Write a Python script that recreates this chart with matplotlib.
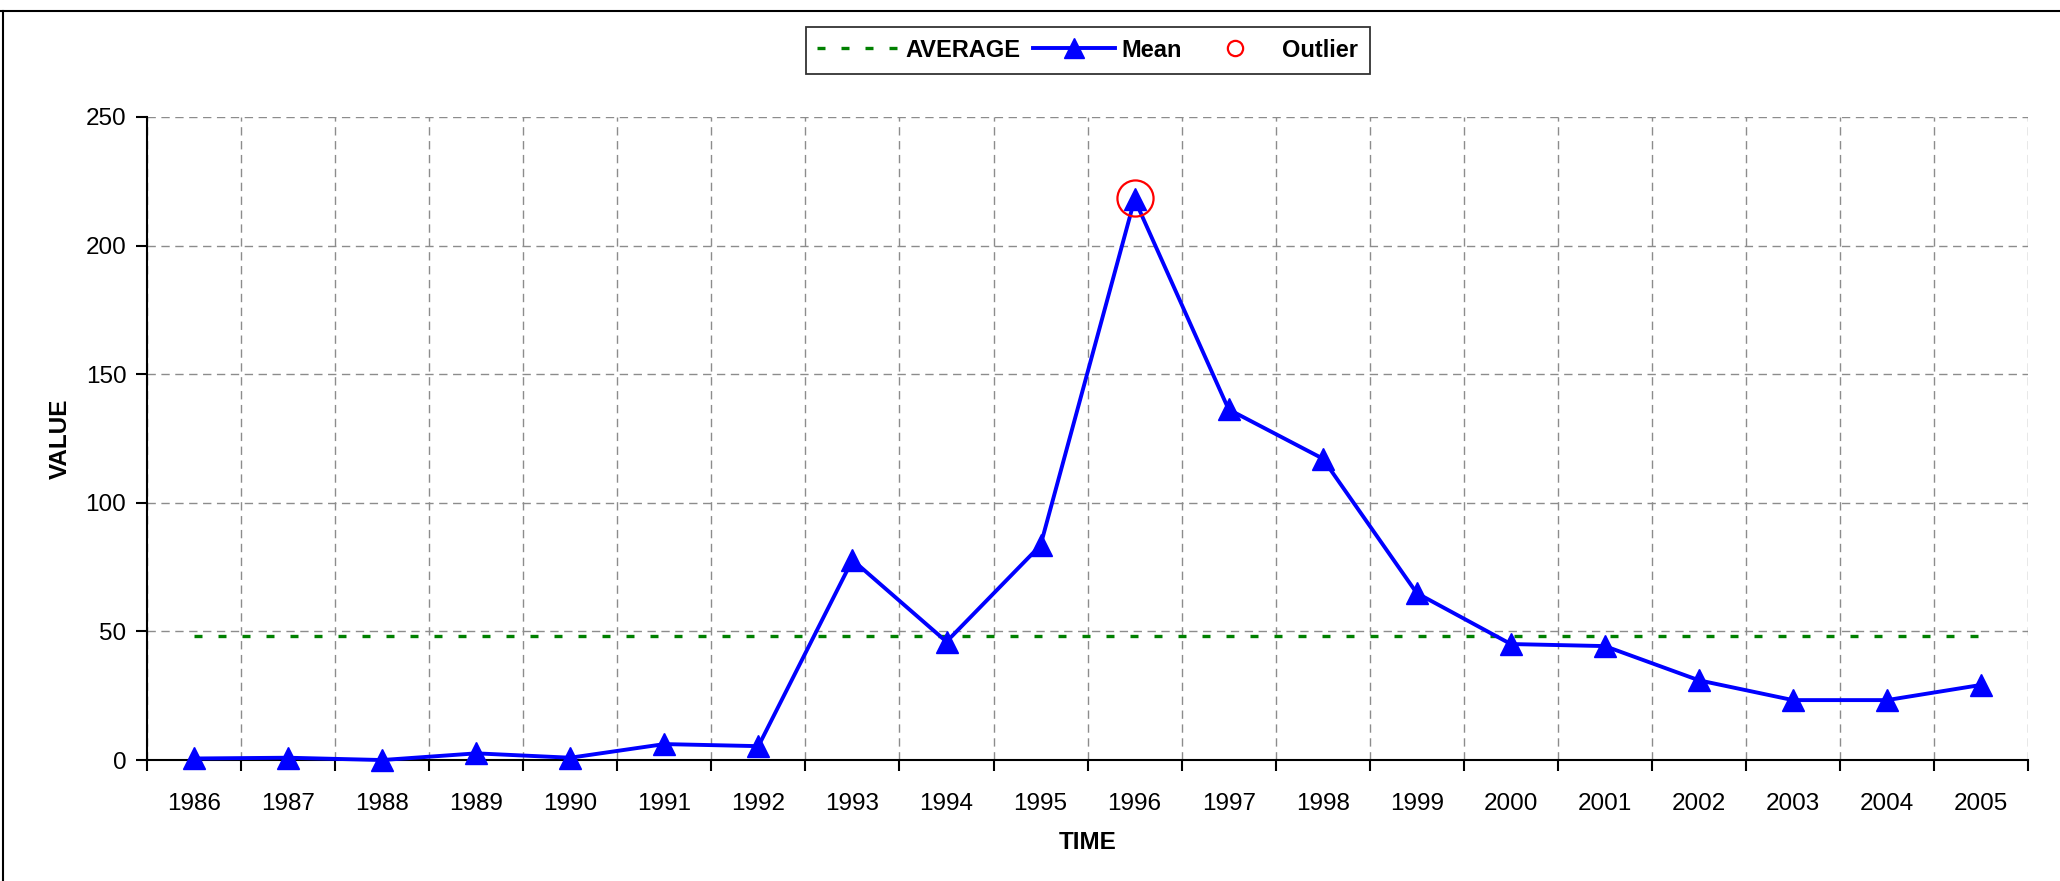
import matplotlib
matplotlib.use("Agg")
import matplotlib.pyplot as plt
import numpy as np
from matplotlib.lines import Line2D

plt.rcParams['font.family'] = ['Liberation Sans', 'DejaVu Sans']

years = ['1986', '1987', '1988', '1989', '1990', '1991', '1992', '1993', '1994', '1995',
         '1996', '1997', '1998', '1999', '2000', '2001', '2002', '2003', '2004', '2005']
mean_values = [0.6, 0.9, 0.0, 2.6, 0.9, 6.2, 5.4, 77.8, 46.0, 83.5,
               218.0, 136.3, 117.2, 64.9, 45.1, 44.3, 31.0, 23.3, 23.3, 29.2]
average_value = 48.3
outlier_year = '1996'
outlier_value = 218.7
y_ticks = [0, 50, 100, 150, 200, 250]

FS = 17.5

fig = plt.figure(figsize=(20.6, 8.81), dpi=100)
ax = fig.add_axes([0.0714, 0.1373, 0.9131, 0.7299])

x = np.arange(len(years))

ax.set_xlim(-0.5, len(years) - 0.5)
ax.set_ylim(0, 250)
ax.set_xticks(np.arange(-0.5, len(years), 1.0))
ax.set_xticklabels([])
ax.set_xticks(x, minor=True)
ax.set_xticklabels(years, minor=True)
ax.set_yticks(y_ticks)
ax.set_yticklabels([str(v) for v in y_ticks])
ax.grid(True, which='major', color='#8c8c8c', linestyle=(0, (6, 4)), linewidth=1.0)
ax.set_axisbelow(True)

ax.tick_params(axis='x', which='major', direction='out', length=8, width=1.5, color='black')
ax.tick_params(axis='x', which='minor', length=0, pad=24, labelsize=FS)
ax.tick_params(axis='y', which='major', direction='out', length=8, width=1.5, pad=7, labelsize=FS)

for s in ['top', 'right']:
    ax.spines[s].set_visible(False)
for s in ['left', 'bottom']:
    ax.spines[s].set_linewidth(1.5)
    ax.spines[s].set_zorder(3)

avg_line, = ax.plot([x[0], x[-1]], [average_value, average_value], color='#008000',
                    linewidth=2.4, dashes=(2.4, 4.8), label='AVERAGE', zorder=4)
mean_line, = ax.plot(x, mean_values, color='#0000ff', linewidth=2.8, marker='^',
                     markersize=16.5, markeredgecolor='#0000ff', label='Mean', zorder=5, clip_on=False)
oi = years.index(outlier_year)
out_pt, = ax.plot([x[oi]], [outlier_value], linestyle='none', marker='o', markersize=26,
                  markerfacecolor='none', markeredgecolor='#ff0000', markeredgewidth=1.6,
                  label='Outlier', zorder=6)

ax.set_xlabel('TIME', fontsize=FS, fontweight='bold', labelpad=11)
ax.set_ylabel('VALUE', fontsize=FS, fontweight='bold', labelpad=10)

leg_out = Line2D([], [], linestyle='none', marker='o', markersize=11,
                 markerfacecolor='none', markeredgecolor='#ff0000', markeredgewidth=1.6)
leg_mean = Line2D([], [], color='#0000ff', linewidth=2.8, marker='^', markersize=14)
leg = fig.legend([avg_line, leg_mean, leg_out], ['AVERAGE', 'Mean', 'Outlier'],
                 loc='center', bbox_to_anchor=(0.528, 0.943), ncol=3,
                 prop={'weight': 'bold', 'size': 17}, frameon=True, fancybox=False,
                 edgecolor='black', handlelength=3.5, handletextpad=0.25,
                 columnspacing=0.5, borderpad=0.5, borderaxespad=0)
leg.get_frame().set_linewidth(1.3)

fig.add_artist(Line2D([0, 1], [1 - 11 / 881, 1 - 11 / 881], transform=fig.transFigure,
                      color='black', linewidth=1.5))
fig.add_artist(Line2D([3 / 2060, 3 / 2060], [0, 1 - 11 / 881], transform=fig.transFigure,
                      color='black', linewidth=1.5))

fig.savefig('out.png', dpi=100, facecolor='white')
